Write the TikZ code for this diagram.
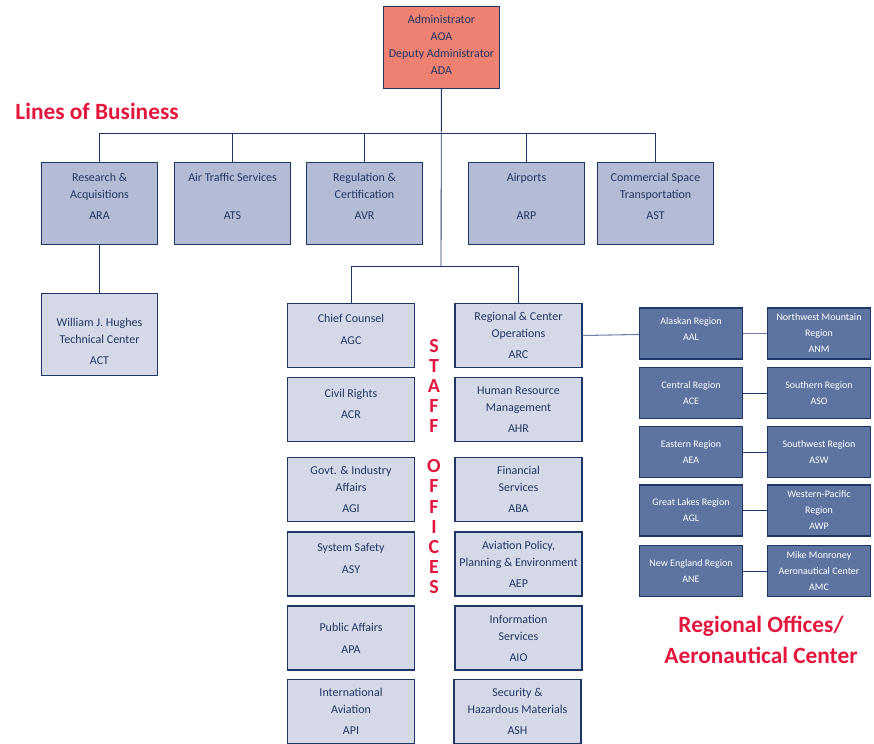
\documentclass[tikz,border=0pt]{standalone}
\usepackage{fontspec}
\setmainfont{Carlito}
\usepackage{xcolor}
\usetikzlibrary{calc,positioning}
\definecolor{faanavy}{HTML}{1F3766}
\definecolor{faasalmon}{HTML}{EE8172}
\definecolor{faalob}{HTML}{B4BBD5}
\definecolor{faastaff}{HTML}{D5D9E7}
\definecolor{faaregion}{HTML}{5E74A0}
\definecolor{faared}{HTML}{E3173E}
\definecolor{faalight}{HTML}{6F82A8}
\tikzset{%
	unit/.style     = {draw=faanavy, line width=1.1pt, rectangle, align=center, text=faanavy, font=\fontsize{9}{12.75}\selectfont},
	chief/.style    = {unit, fill=faasalmon, minimum width=87pt, minimum height=61.5pt, text depth=4pt}, % Administrator
	lob/.style      = {unit, fill=faalob, minimum width=87pt, minimum height=61.5pt, text depth=11pt}, % Line of business
	center/.style   = {unit, fill=faastaff, minimum width=87pt, minimum height=61.5pt}, % Technical center
	staff/.style    = {unit, fill=faastaff, minimum width=95pt, minimum height=48pt}, % Staff office
	region/.style   = {unit, fill=faaregion, text=white, minimum width=77pt, minimum height=38.5pt, font=\fontsize{7.5}{12}\selectfont}, % Region
	heading/.style  = {text=faared, align=center, font=\bfseries\fontsize{17.5}{23.25}\selectfont},
	link/.style     = {draw=faanavy, line width=0.65pt},
	lightlink/.style = {draw=faalight, line width=0.8pt},
}
\begin{document}
\begin{tikzpicture}[x=0.75pt, y=-0.75pt]
		\useasboundingbox (0,0) rectangle (874,743);
		\node[chief] (aoa) at (441.5,47.5) {Administrator\\AOA\\Deputy Administrator\\ADA};
		\node[heading] (lobtitle) at (97,111) {Lines of Business};
		% lines of business
		\node[lob] (ara) at (99.5,203.5) {Research \&\\Acquisitions\\[3pt]ARA};
		\node[lob] (ats) at (232.5,203.5) {Air Traffic Services\\[15.75pt]ATS};
		\node[lob] (avr) at (364.5,203.5) {Regulation \&\\Certification\\[3pt]AVR};
		\node[lob] (arp) at (526.5,203.5) {Airports\\[15.75pt]ARP};
		\node[lob] (ast) at (655.5,203.5) {Commercial Space\\Transportation\\[3pt]AST};
		\node[center] (act) at (99.5,334.5) {\rule{0pt}{16pt}William J. Hughes\\Technical Center\\[3pt]ACT};
		% staff offices
		\node[staff, text depth=9pt] (agc) at (351,335.5) {Chief Counsel\\[3.75pt]AGC};
		\node[staff, text depth=9pt] (acr) at (351,409.5) {Civil Rights\\[3pt]ACR};
		\node[staff] (agi) at (351,489.5) {Govt. \& Industry\\Affairs\\[3pt]AGI};
		\node[staff, text depth=9pt] (asy) at (351,564) {System Safety\\[3.75pt]ASY};
		\node[staff] (apa) at (351,638) {Public Affairs\\[3.75pt]APA};
		\node[staff] (api) at (351,711.5) {International\\Aviation\\[3pt]API};
		\node[staff] (arc) at (518.5,335.5) {Regional \& Center\\Operations\\[3pt]ARC};
		\node[staff] (ahr) at (518.5,409.5) {Human Resource\\Management\\[3pt]AHR};
		\node[staff] (aba) at (518.5,489.5) {Financial\\Services\\[3pt]ABA};
		\node[staff] (aep) at (518.5,564) {Aviation Policy,\\Planning \& Environment\\[3pt]AEP};
		\node[staff] (aio) at (518.5,638) {Information\\Services\\[3pt]AIO};
		\node[staff] (ash) at (517.5,711.5) {Security \&\\Hazardous Materials\\[3pt]ASH};
		\node[text=faared, align=center, font=\bfseries\fontsize{15}{15}\selectfont] (stafftitle) at (434,466.5) {S\\T\\A\\F\\F\\[15pt]O\\F\\F\\I\\C\\E\\S};
		% regions
		\node[region, text depth=7pt] (aal) at (691,333.5) {Alaskan Region\\AAL};
		\node[region] (ace) at (691,393) {Central Region\\ACE};
		\node[region] (aea) at (691,452) {Eastern Region\\AEA};
		\node[region] (agl) at (691,510.5) {Great Lakes Region\\AGL};
		\node[region] (ane) at (691,571) {New England Region\\ANE};
		\node[region] (anm) at (819,333.5) {Northwest Mountain\\Region\\ANM};
		\node[region] (aso) at (819,393) {Southern Region\\ASO};
		\node[region] (asw) at (819,452) {Southwest Region\\ASW};
		\node[region] (awp) at (819,510.5) {Western-Pacific\\Region\\AWP};
		\node[region] (amc) at (819,571) {Mike Monroney\\Aeronautical Center\\AMC};
		\node[heading] (regiontitle) at (761,639.5) {Regional Offices/\\Aeronautical Center};
		% connectors
		\coordinate (lobbus) at (441,133);
		\coordinate (staffbus) at (441,266);
		\draw[link] (aoa) -- (staffbus);
		\draw[link] (lobbus) -| (ara);
		\draw[link] (lobbus) -| (ats);
		\draw[link] (lobbus) -| (avr);
		\draw[link] (lobbus) -| (arp);
		\draw[link] (lobbus) -| (ast);
		\draw[link] (ara) -- (act);
		\draw[link] (staffbus) -| (agc);
		\draw[link] (staffbus) -| (arc);
		\draw[lightlink] (arc.east) -- (aal);
		\draw[lightlink] (aal) -- (anm);
		\draw[link] (ace) -- (aso);
		\draw[link] (aea) -- (asw);
		\draw[link] (agl) -- (awp);
		\draw[link] (ane) -- (amc);
		
		\end{tikzpicture}
\end{document}
